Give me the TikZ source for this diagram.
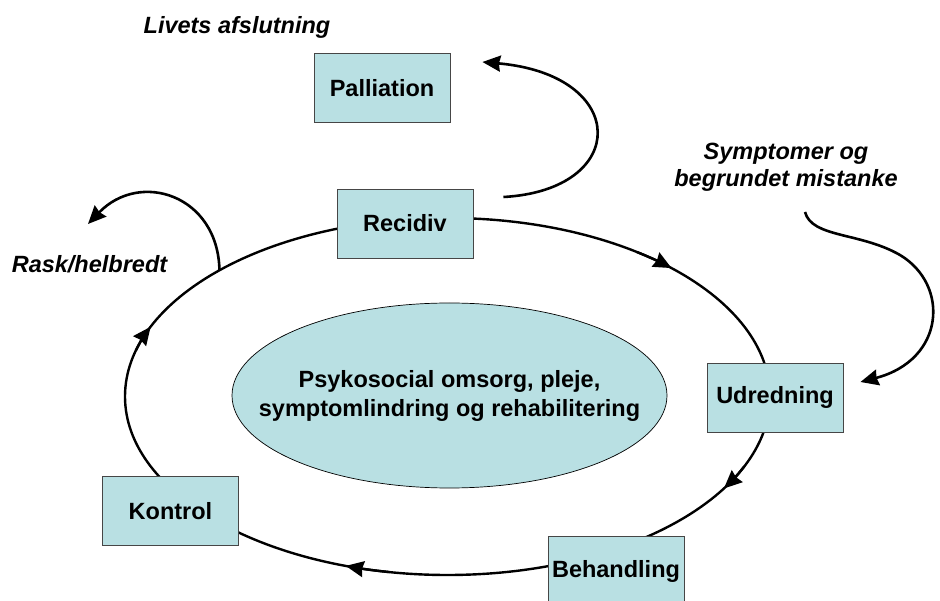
\documentclass[tikz,border=0pt]{standalone}
\usepackage{fontspec}
\setmainfont{Liberation Sans}
\usetikzlibrary{arrows.meta, shapes.geometric, calc}
\definecolor{boxfill}{RGB}{185,224,227}
\definecolor{boxline}{RGB}{70,70,70}
\begin{document}
\begin{tikzpicture}[x=1pt,y=1pt,
  every node/.style={font=\fontsize{23.5}{26}\selectfont\bfseries},
  stagebox/.style={draw=boxline, line width=0.9pt, fill=boxfill, minimum width=136pt, minimum height=69pt, inner sep=0pt},
  caremid/.style={ellipse, draw=black, line width=0.7pt, fill=boxfill, minimum width=435pt, minimum height=185pt, inner sep=0pt},
  caretext/.style={align=center, inner sep=0pt, font=\fontsize{23.5}{29}\selectfont\bfseries},
  sidelabel/.style={font=\fontsize{23.5}{27}\selectfont\bfseries\itshape, align=center, inner sep=0pt},
  flow/.style={line width=2.6pt, -{Stealth[length=18pt, width=16pt, inset=1.5pt]}},
  ringline/.style={line width=2.4pt},
  ringtip/.style={line width=2.4pt, -{Stealth[length=18pt, width=16pt, inset=1.5pt]}}
]
\useasboundingbox (0,0) rectangle (940,600);

% ring
\coordinate (ringc) at (447.5,203.5);
\draw[ringline] (ringc) ellipse [x radius=322.5, y radius=178.5];
\foreach \t in {46,-31,-108.4,157}{
  \draw[ringtip] ($(ringc)+({\t+8}:322.5 and 178.5)$) arc[start angle=\t+8, end angle=\t, x radius=322.5, y radius=178.5];
}

% nodes
\node[caremid] (care) at (449.5,204.5) {};
\node[caretext] (caretxt) at (care.center) {Psykosocial omsorg, pleje,\\symptomlindring og rehabilitering};
\node[stagebox] (palliation) at (382,512) {Palliation};
\node[stagebox] (recidiv) at (405,376.5) {Recidiv};
\node[stagebox] (udredning) at (775,202.5) {Udredning};
\node[stagebox] (behandling) at (616,29) {Behandling};
\node[stagebox] (kontrol) at (170.5,89) {Kontrol};

\node[sidelabel] (livets) at (237,573) {Livets afslutning};
\node[sidelabel] (rask) at (89.5,336) {Rask/helbredt};
\node[sidelabel] (symptomer) at (786,433) {Symptomer og\\begrundet mistanke};

% side arrows
\coordinate (palstart) at ([shift={(30,26.5)}]recidiv.east);
\coordinate (palend) at ([shift={(32,26)}]palliation.east);
\draw[flow] (palstart) .. controls (630,410) and (630,525) .. (palend);

\coordinate (raskstart) at ($(ringc)+(135:322.5 and 178.5)$);
\coordinate (raskend) at (88,376);
\draw[flow] (raskstart) .. controls (218,405) and (140,430) .. (raskend);

\coordinate (symstart) at (805,388);
\coordinate (symmid) at (900,345);
\coordinate (symend) at ([shift={(17,15.5)}]udredning.east);
\draw[flow] (symstart) .. controls (812,362) and (860,368) .. (symmid)
  .. controls (950,315) and (945,240) .. (symend);
\end{tikzpicture}
\end{document}
